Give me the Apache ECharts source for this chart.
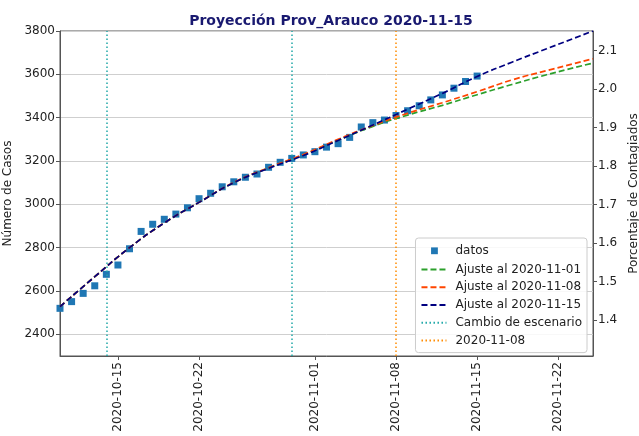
<!DOCTYPE html>
<html>
<head>
<meta charset="utf-8">
<script src="https://cdn.jsdelivr.net/npm/echarts@6/dist/echarts.min.js"></script>
<style>
  html, body { margin: 0; padding: 0; background: #fff; }
  #main { width: 639px; height: 436px; }
</style>
</head>
<body>
<div id="main"></div>
<script>
// datos diarios (casos acumulados)
var fechasDatos = [
  '2020-10-10', '2020-10-11', '2020-10-12', '2020-10-13', '2020-10-14', '2020-10-15',
  '2020-10-16', '2020-10-17', '2020-10-18', '2020-10-19', '2020-10-20', '2020-10-21',
  '2020-10-22', '2020-10-23', '2020-10-24', '2020-10-25', '2020-10-26', '2020-10-27',
  '2020-10-28', '2020-10-29', '2020-10-30', '2020-10-31', '2020-11-01', '2020-11-02',
  '2020-11-03', '2020-11-04', '2020-11-05', '2020-11-06', '2020-11-07', '2020-11-08',
  '2020-11-09', '2020-11-10', '2020-11-11', '2020-11-12', '2020-11-13', '2020-11-14',
  '2020-11-15'
];
var casos = [
  2520, 2551, 2589, 2624, 2677, 2720,
  2795, 2875, 2908, 2931, 2955, 2984,
  3026, 3051, 3081, 3104, 3125, 3140,
  3171, 3194, 3212, 3228, 3243, 3264,
  3280, 3309, 3357, 3377, 3389, 3410,
  3432, 3455, 3482, 3505, 3536, 3567,
  3592
];

// curvas de ajuste (leidas cada 3 dias)
var fechasAjuste = [
  '2020-10-10', '2020-10-13', '2020-10-16', '2020-10-19', '2020-10-22', '2020-10-25',
  '2020-10-28', '2020-10-31', '2020-11-03', '2020-11-06', '2020-11-09', '2020-11-12',
  '2020-11-15', '2020-11-18', '2020-11-21', '2020-11-25'
];
var ajuste1101 = [2528, 2666, 2800, 2914, 3009, 3100, 3168, 3228, 3296, 3360, 3412, 3457, 3506, 3553, 3598, 3652];
var ajuste1108 = [2528, 2666, 2800, 2914, 3009, 3101, 3169, 3230, 3300, 3364, 3420, 3469, 3520, 3574, 3617, 3672];
var ajuste1115 = [2528, 2666, 2800, 2914, 3009, 3100, 3166, 3225, 3295, 3366, 3439, 3512, 3590, 3656, 3718, 3800];

var cambiosEscenario = ['2020-10-14', '2020-10-30'];
var fechaCorte = '2020-11-08';

var ticksFecha = ['2020-10-15', '2020-10-22', '2020-11-01', '2020-11-08', '2020-11-15', '2020-11-22'];
var ticksCasos = [2400, 2600, 2800, 3000, 3200, 3400, 3600, 3800];
var ticksPorcentaje = [1.4, 1.5, 1.6, 1.7, 1.8, 1.9, 2.0, 2.1];

function t(s) { return new Date(s + 'T00:00:00Z').getTime(); }
function pares(fechas, valores) {
  return fechas.map(function (f, i) { return [t(f), valores[i]]; });
}
function fmtFecha(v) {
  var d = new Date(v);
  var mm = ('0' + (d.getUTCMonth() + 1)).slice(-2);
  var dd = ('0' + d.getUTCDate()).slice(-2);
  return d.getUTCFullYear() + '-' + mm + '-' + dd;
}

var fuente = 'DejaVu Sans';
var gris = '#555';
var guion = [6, 3];
var punto = [1.5, 2.5];
var soloLinea = { opacity: 0 };

var option = {
  animation: false,
  backgroundColor: '#fff',
  textStyle: { fontFamily: fuente },
  title: {
    text: 'Proyección Prov_Arauco 2020-11-15',
    left: 326, top: 9, textAlign: 'center',
    textStyle: { fontFamily: fuente, fontSize: 14, fontWeight: 'bold', color: '#191970' }
  },
  grid: {
    left: 60, right: 46, top: 31, bottom: 80,
    outerBoundsMode: 'none', containLabel: false,
    show: true, borderColor: gris, borderWidth: 1
  },
  legend: {
    orient: 'vertical',
    right: 52, top: 238,
    padding: [6, 5, 6, 5],
    itemGap: 5.8,
    itemWidth: 25, itemHeight: 13.6,
    backgroundColor: 'rgba(255,255,255,0.85)',
    borderColor: '#ccc', borderWidth: 1, borderRadius: 3,
    textStyle: { fontFamily: fuente, fontSize: 12, color: '#222', padding: [0, 0, 0, 4] },
    data: [
      { name: 'datos', icon: 'path://M0,0 M25,14 M9.5,3.5 h7 v7 h-7 z' },
      { name: 'Ajuste al 2020-11-01', itemStyle: soloLinea },
      { name: 'Ajuste al 2020-11-08', itemStyle: soloLinea },
      { name: 'Ajuste al 2020-11-15', itemStyle: soloLinea },
      { name: 'Cambio de escenario', itemStyle: soloLinea },
      { name: '2020-11-08', itemStyle: soloLinea }
    ]
  },
  xAxis: {
    type: 'value',
    min: t('2020-10-10'), max: t('2020-11-25'),
    axisLine: { show: true, lineStyle: { color: gris } },
    axisTick: { show: true, length: 4, lineStyle: { color: gris }, customValues: ticksFecha.map(t) },
    axisLabel: {
      customValues: ticksFecha.map(t),
      rotate: 90, margin: 6,
      fontFamily: fuente, fontSize: 12, color: '#222',
      formatter: fmtFecha
    },
    splitLine: { show: false }
  },
  yAxis: [
    {
      type: 'value', min: 2300, max: 3800,
      name: 'Número de Casos', nameLocation: 'middle', nameRotate: 90, nameGap: 43,
      nameTextStyle: { fontFamily: fuente, fontSize: 12, color: '#222' },
      axisLine: { show: true, lineStyle: { color: gris } },
      axisTick: { show: true, length: 4, lineStyle: { color: gris }, customValues: ticksCasos },
      axisLabel: {
        customValues: ticksCasos, margin: 5, fontFamily: fuente, fontSize: 12, color: '#222',
        formatter: function (v) { return String(v); }
      },
      splitLine: { show: true, lineStyle: { color: '#cfcfcf', width: 1 } }
    },
    {
      type: 'value', min: 1.3064, max: 2.1512,
      position: 'right',
      name: 'Porcentaje de Contagiados', nameLocation: 'middle', nameRotate: 90, nameGap: 32,
      nameTextStyle: { fontFamily: fuente, fontSize: 12, color: '#222' },
      axisLine: { show: true, lineStyle: { color: gris } },
      axisTick: { show: true, length: 4, lineStyle: { color: gris }, customValues: ticksPorcentaje },
      axisLabel: {
        customValues: ticksPorcentaje, margin: 5, fontFamily: fuente, fontSize: 12, color: '#222',
        formatter: function (v) { return v.toFixed(1); }
      },
      splitLine: { show: false }
    }
  ],
  series: [
    {
      name: 'datos', type: 'scatter', symbol: 'rect', symbolSize: 7,
      itemStyle: { color: '#1f77b4', opacity: 1 }, z: 2,
      data: pares(fechasDatos, casos)
    },
    {
      name: 'Ajuste al 2020-11-01', type: 'line', smooth: true, showSymbol: false, symbol: 'none', z: 3,
      lineStyle: { color: '#2ca02c', width: 1.7, type: guion },
      itemStyle: { color: '#2ca02c' },
      data: pares(fechasAjuste, ajuste1101)
    },
    {
      name: 'Ajuste al 2020-11-08', type: 'line', smooth: true, showSymbol: false, symbol: 'none', z: 4,
      lineStyle: { color: '#ff4500', width: 1.7, type: guion },
      itemStyle: { color: '#ff4500' },
      data: pares(fechasAjuste, ajuste1108)
    },
    {
      name: 'Ajuste al 2020-11-15', type: 'line', smooth: true, showSymbol: false, symbol: 'none', z: 5,
      lineStyle: { color: '#000080', width: 1.7, type: guion },
      itemStyle: { color: '#000080' },
      data: pares(fechasAjuste, ajuste1115)
    },
    {
      name: 'Cambio de escenario', type: 'line', symbol: 'none', data: [],
      lineStyle: { color: '#20a8a8', width: 1.5, type: punto },
      itemStyle: { color: '#20a8a8' },
      markLine: {
        silent: true, symbol: ['none', 'none'], label: { show: false },
        lineStyle: { color: '#20a8a8', width: 1.5, type: punto },
        data: cambiosEscenario.map(function (f) { return { xAxis: t(f) }; })
      }
    },
    {
      name: '2020-11-08', type: 'line', symbol: 'none', data: [],
      lineStyle: { color: '#ff8c00', width: 1.5, type: punto },
      itemStyle: { color: '#ff8c00' },
      markLine: {
        silent: true, symbol: ['none', 'none'], label: { show: false },
        lineStyle: { color: '#ff8c00', width: 1.5, type: punto },
        data: [{ xAxis: t(fechaCorte) }]
      }
    }
  ]
};

var chart = echarts.init(document.getElementById('main'), null, { renderer: 'canvas' });
chart.setOption(option);
</script>
</body>
</html>
